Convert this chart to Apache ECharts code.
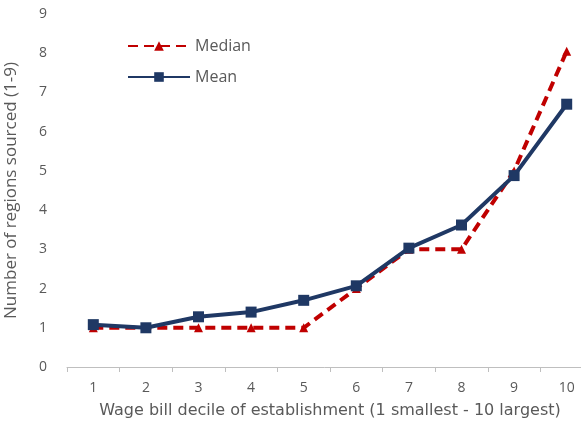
<!DOCTYPE html><html><head><meta charset="utf-8"><script src="https://cdn.jsdelivr.net/npm/echarts@6/dist/echarts.min.js"></script></head><body style="margin:0"><div id="c" style="width:581px;height:436px"></div><script>
const categories=['1','2','3','4','5','6','7','8','9','10'];
const median=[1,1,1,1,1,2,3,3,5,8.05];
const mean=[1.08,1.0,1.28,1.4,1.7,2.07,3.03,3.62,4.88,6.7];
const c=echarts.init(document.getElementById('c'));
const f='"Open Sans", sans-serif';
c.setOption({
 textStyle:{fontFamily:f},
 grid:{left:67,right:-12,top:14,bottom:69,containLabel:false,outerBoundsMode:'none'},
 legend:[{data:['Median'],left:122,top:33,itemWidth:62,itemHeight:12,textStyle:{color:'#595959',fontSize:16,fontFamily:f}},
         {data:['Mean'],left:122,top:64,itemWidth:62,itemHeight:12,textStyle:{color:'#595959',fontSize:16,fontFamily:f}}],
 xAxis:{type:'category',data:categories,name:'Wage bill decile of establishment (1 smallest - 10 largest)',nameLocation:'middle',nameGap:36,nameTextStyle:{color:'#595959',fontSize:16,fontFamily:'"DejaVu Sans", sans-serif'},
  axisLine:{lineStyle:{color:'#bfbfbf'}},axisTick:{show:true,lineStyle:{color:'#bfbfbf'}},axisLabel:{color:'#595959',fontSize:14,margin:14,fontFamily:f}},
 yAxis:{type:'value',min:0,max:9,interval:1,name:'Number of regions sourced (1-9)',nameLocation:'middle',nameGap:47,nameTextStyle:{color:'#595959',fontSize:17,fontFamily:f},
  splitLine:{show:false},axisLabel:{color:'#595959',fontSize:14,margin:20,fontFamily:f}},
 series:[
  {name:'Median',type:'line',data:median,symbol:'triangle',symbolSize:9,z:2,lineStyle:{color:'#c00000',width:4,type:[10,6]},itemStyle:{color:'#c00000'}},
  {name:'Mean',type:'line',data:mean,symbol:'rect',symbolSize:11,z:3,lineStyle:{color:'#1f3864',width:4},itemStyle:{color:'#1f3864'}}
 ]});
</script></body></html>
